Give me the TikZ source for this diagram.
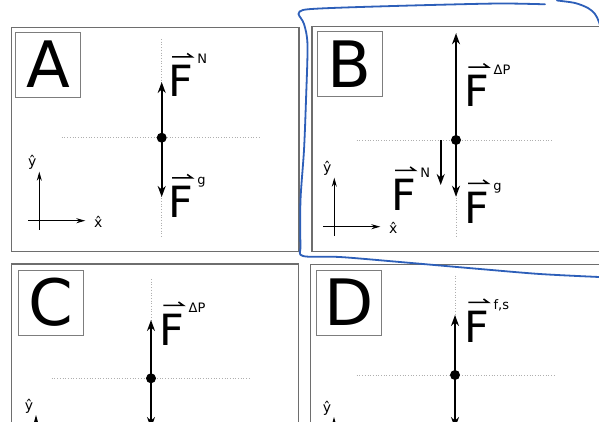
\documentclass[tikz,border=0pt]{standalone}
\usepackage{fontspec}
\setmainfont{DejaVu Sans}
\usetikzlibrary{arrows.meta}
\definecolor{framegray}{RGB}{110,110,110}
\definecolor{boxgray}{RGB}{125,125,125}
\definecolor{guidegray}{RGB}{175,175,175}
\definecolor{handblue}{RGB}{45,95,185}
\tikzset{
 frame/.style={draw=framegray, line width=1.3pt},
 labbox/.style={draw=boxgray, line width=1pt, minimum width=65pt, minimum height=65pt, inner sep=0pt, font=\fontsize{64}{64}\selectfont},
 guide/.style={draw=guidegray, dotted, line width=0.7pt},
 force/.style={line width=1.8pt, -{Stealth[length=11pt,width=8pt]}},
 axis/.style={line width=1.1pt, -{Stealth[length=9pt,width=5pt]}},
 dotnode/.style={circle, fill=black, minimum size=10pt, inner sep=0pt},
 fsym/.style={inner sep=0pt, anchor=base west, font=\fontsize{43}{43}\selectfont},
 supl/.style={inner sep=0pt, anchor=base west, font=\fontsize{13}{13}\selectfont},
 unitl/.style={inner sep=0pt, font=\fontsize{14}{14}\selectfont},
 vecbar/.style={line width=1.5pt, line join=miter},
 hand/.style={draw=handblue, line width=1.8pt, line cap=round, line join=round},
}
\newcommand{\vecover}[1]{%
  \draw[vecbar] ([xshift=4pt,yshift=8pt]#1.north west) -- ([xshift=-1pt,yshift=8pt]#1.north east) -- ++(-5pt,3.5pt);}
\newcommand{\axvert}[2]{% name, crossing
  \coordinate (#1o) at #2;
  \coordinate (#1vb) at ([yshift=-9pt]#1o);
  \coordinate (#1vt) at ([yshift=49pt]#1o);
  \draw[axis] (#1vb) -- (#1vt);
  \node[unitl] (#1y) at ([xshift=-7pt,yshift=58pt]#1o) {ŷ};}
\newcommand{\axhorz}[1]{% name
  \coordinate (#1hl) at ([xshift=-11pt]#1o);
  \coordinate (#1hr) at ([xshift=46pt]#1o);
  \draw[axis] (#1hl) -- (#1hr);
  \node[unitl] (#1x) at ([xshift=59pt,yshift=-1pt]#1o) {x̂};}
\begin{document}
\begin{tikzpicture}[x=1pt,y=-1pt]
\useasboundingbox (0,0) rectangle (599,421);
\fill[white] (0,0) rectangle (599,421);

% ---------- Panel A ----------
\draw[frame] (11.7,27.3) rectangle (299,251.7);
\node[labbox] (labA) at (48,64.5) {A};
\coordinate (gAl) at (61.7,137.7); \coordinate (gAr) at (260,137.7);
\coordinate (gAt) at (161.7,39); \coordinate (gAb) at (161.7,237);
\draw[guide] (gAl) -- (gAr); \draw[guide] (gAt) -- (gAb);
\node[dotnode] (dA) at (161.7,137.7) {};
\coordinate (tAu) at (161.7,82); \coordinate (tAd) at (161.7,197);
\draw[force] (dA.center) -- (tAu);
\draw[force] (dA.center) -- (tAd);
\node[fsym] (fAN) at (168,96.5) {F};
\vecover{fAN}
\node[supl] (sAN) at ([xshift=4pt,yshift=1pt]fAN.north east) {N};
\node[fsym] (fAg) at (168,217.5) {F};
\vecover{fAg}
\node[supl] (sAg) at ([xshift=4pt,yshift=1pt]fAg.north east) {g};
\axvert{aA}{(39.3,220.7)}
\axhorz{aA}

% ---------- Panel B ----------
\draw[frame] (312,26.7) rectangle (612,251.5);
\node[labbox] (labB) at (349.9,64.2) {B};
\coordinate (gBl) at (356.7,140); \coordinate (gBr) at (553.3,140);
\coordinate (gBt) at (456,33); \coordinate (gBb) at (456,238);
\draw[guide] (gBl) -- (gBr); \draw[guide] (gBt) -- (gBb);
\node[dotnode] (dB) at (456,140) {};
\coordinate (tBu) at (456,33.3); \coordinate (tBd) at (456,196.7);
\coordinate (nBs) at (440.7,140); \coordinate (nBe) at (440.7,185);
\draw[force] (dB.center) -- (tBu);
\draw[force] (dB.center) -- (tBd);
\draw[force] (nBs) -- (nBe);
\node[fsym] (fBP) at (464.3,106.7) {F};
\vecover{fBP}
\node[supl] (sBP) at ([xshift=4pt,yshift=1pt]fBP.north east) {ΔP};
\node[fsym] (fBN) at (391,210) {F};
\vecover{fBN}
\node[supl] (sBN) at ([xshift=4pt,yshift=1pt]fBN.north east) {N};
\node[fsym] (fBg) at (464,223) {F};
\vecover{fBg}
\node[supl] (sBg) at ([xshift=4pt,yshift=1pt]fBg.north east) {g};
\axvert{aB}{(334.3,226.7)}
\axhorz{aB}

% ---------- Panel C ----------
\draw[frame] (11.7,264) rectangle (298.7,445);
\node[labbox] (labC) at (51.2,302.5) {C};
\coordinate (gCl) at (51.7,378.3); \coordinate (gCr) at (250,378.3);
\coordinate (gCt) at (151,279); \coordinate (gCb) at (151,440);
\draw[guide] (gCl) -- (gCr); \draw[guide] (gCt) -- (gCb);
\node[dotnode] (dC) at (151,378.3) {};
\coordinate (tCu) at (151,320); \coordinate (tCd) at (151,428);
\draw[force] (dC.center) -- (tCu);
\draw[force] (dC.center) -- (tCd);
\node[fsym] (fCP) at (159.3,345) {F};
\vecover{fCP}
\node[supl] (sCP) at ([xshift=4pt,yshift=1pt]fCP.north east) {ΔP};
\axvert{aC}{(36,464)}

% ---------- Panel D ----------
\draw[frame] (310.5,264.5) rectangle (612,445);
\node[labbox] (labD) at (349.3,302.5) {D};
\coordinate (gDl) at (356.7,375); \coordinate (gDr) at (555,375);
\coordinate (gDt) at (455,275.7); \coordinate (gDb) at (455,440);
\draw[guide] (gDl) -- (gDr); \draw[guide] (gDt) -- (gDb);
\node[dotnode] (dD) at (455,375) {};
\coordinate (tDu) at (455,315); \coordinate (tDd) at (455,428);
\draw[force] (dD.center) -- (tDu);
\draw[force] (dD.center) -- (tDd);
\node[fsym] (fDf) at (464.3,342) {F};
\vecover{fDf}
\node[supl] (sDf) at ([xshift=4pt,yshift=1pt]fDf.north east) {f,s};
\axvert{aD}{(334,466)}

% ---------- hand-drawn blue outline ----------
\draw[hand] plot[smooth, tension=0.5] coordinates {(545,4.3) (500,3.5) (430,5) (360,7) (320,8.5) (303,10) (298.5,14) (304,24) (307.5,45) (306,100) (304,150) (300.5,200) (300.5,245) (303,256) (340,257) (400,262) (480,269) (540,274) (599,277) (612,277.5)};
\draw[hand] plot[smooth, tension=0.5] coordinates {(557,0.5) (575,3) (588,8) (595,14) (599,22) (602,32)};
\end{tikzpicture}
\end{document}
